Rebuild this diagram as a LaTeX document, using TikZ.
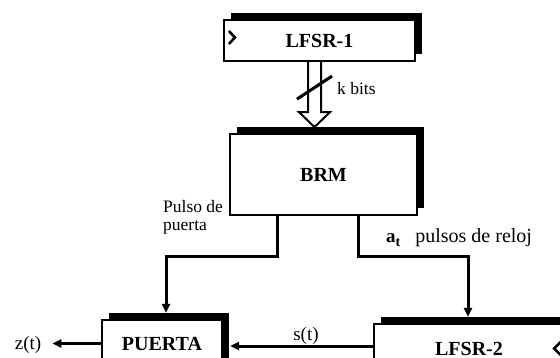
\documentclass[tikz,border=0pt]{standalone}
\usepackage{fontspec}
\setmainfont{Liberation Serif}
\usetikzlibrary{arrows.meta,shadows}

\begin{document}
\begin{tikzpicture}[x=1pt,y=-1pt,
  box/.style={draw,line width=2.2pt,fill=white,
    font=\fontsize{20}{20}\selectfont\bfseries,inner sep=0pt,
    drop shadow={shadow xshift=7pt,shadow yshift=7pt,fill=black,opacity=1}},
  conn/.style={line width=3pt,-{Triangle[length=9pt,width=8pt]}},
  lbl/.style={font=\fontsize{17.5}{18}\selectfont,inner sep=0pt},
  sig/.style={font=\fontsize{19}{19}\selectfont,inner sep=0pt},
  clock/.style={line width=2.6pt},
]
\useasboundingbox (0,0) rectangle (560,358);
\fill[white] (0,0) rectangle (560,358);
\clip (0,0) rectangle (560,358);

% blocks
\node[box,minimum width=191pt,minimum height=41pt] (lfsr1) at (319.5,40.5) {LFSR-1};
\node[box,minimum width=187pt,minimum height=81pt] (brm) at (323.5,174.5) {BRM};
\node[box,minimum width=120pt,minimum height=47pt] (puerta) at (162,343.5) {PUERTA};
\node[box,minimum width=190pt,minimum height=49pt] (lfsr2) at (469,348.5) {LFSR-2};

% clock marks
\draw[clock] ([shift={(6,-9.5)}]lfsr1.west) -- ++(6,6.5) -- ++(-6,6.5);
\draw[clock] ([shift={(-4,-7)}]lfsr2.east) -- ++(-7,7) -- ++(7,7);

% k-bit bus from LFSR-1 to BRM (hollow double arrow)
\draw[line width=2pt,line join=miter]
  ([xshift=-11.5pt]lfsr1.south) -- ++(0,50) -- ++(-9,0) -- ++(15.5,15)
  -- ++(15.5,-15) -- ++(-9,0) -- ++(0,-50);
\draw[line width=3pt] ([xshift=-22.5pt,yshift=-37pt]lfsr1.south) -- ++(35,-23);
\node[lbl,anchor=base west] (kb) at (337,95) {k bits};

% BRM outputs
\draw[conn] ([xshift=-46.5pt]brm.south) -- ++(0,40) -| ([xshift=4pt,yshift=6pt]puerta.north);
\draw[conn] ([xshift=34.5pt]brm.south) -- ++(0,40) -| ([xshift=-1pt,yshift=6pt]lfsr2.north);
\node[lbl,anchor=base west,align=left] (pulso) at (163,231) {Pulso de\\puerta};
\node[lbl,anchor=base west] (at) at (386,243)
  {\textbf{\fontsize{19}{19}\selectfont a}\raisebox{-4pt}{\textbf{\fontsize{14}{14}\selectfont t}}\hspace{15pt}\fontsize{20}{20}\selectfont pulsos de reloj};

% s(t) from LFSR-2 into PUERTA
\coordinate (sin) at ([yshift=2.5pt]lfsr2.west);
\coordinate (pe) at ([xshift=7pt]puerta.east);
\draw[conn] (sin) -- (sin -| pe);
\node[sig,anchor=base] (st) at (306,341) {s(t)};

% output z(t)
\node[sig,anchor=base] (zt) at (28,349) {z(t)};
\coordinate (zend) at ([xshift=11pt]zt.east);
\draw[conn] (puerta.west) -- (puerta.west -| zend);
\end{tikzpicture}
\end{document}
